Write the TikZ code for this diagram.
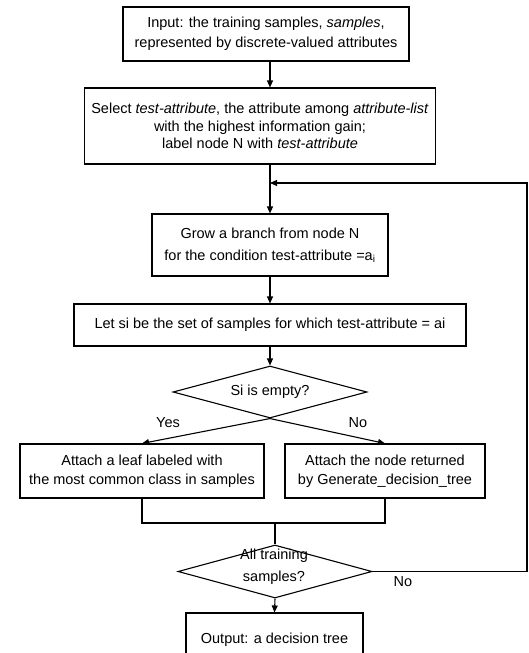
\documentclass[tikz,border=0pt]{standalone}
\usepackage{fontspec}
\setmainfont{Liberation Sans}
\usetikzlibrary{arrows.meta,shapes.geometric}
\tikzset{
  box/.style={draw, line width=1.1pt, inner sep=0pt, align=center, font=\fontsize{14.5}{#1}\selectfont},
  box/.default=18,
  txt/.style={inner sep=0pt, align=center, font=\fontsize{14.5}{#1}\selectfont},
  txt/.default=18,
  dia/.style={draw, shape=diamond, line width=1.1pt, inner sep=0pt},
  conn/.style={line width=1.1pt},
  arr/.style={line width=1.1pt, -{Triangle[length=7pt,width=6pt]}},
}
\begin{document}
\begin{tikzpicture}[x=1pt,y=-1pt]
\useasboundingbox[fill=white] (0,0) rectangle (528,653);
\node[box=20, minimum width=286pt, minimum height=54pt] (in) at (266,34)
  {Input: the training samples, \textit{samples},\\represented by discrete-valued attributes};
\node[box=17.5, minimum width=351pt, minimum height=76pt] (sel) at (260,126)
  {Select \textit{test-attribute}, the attribute among \textit{attribute-list}\\with the highest information gain;\\label node N with \textit{test-attribute}};
\node[box=22, minimum width=236pt, minimum height=62pt] (grow) at (270,245)
  {Grow a branch from node N\\for the condition test-attribute =a\textsubscript{i}};
\node[box, minimum width=392pt, minimum height=42pt] (let) at (270,325)
  {Let si be the set of samples for which test-attribute = ai};
\node[dia, minimum width=194pt, minimum height=52pt] (d1) at (270,392) {};
\node[txt] (d1t) at (270,392) {Si is empty?};
\node[box=19, minimum width=244pt, minimum height=54pt] (yes) at (142,471)
  {Attach a leaf labeled with\\the most common class in samples};
\node[box=19, minimum width=200pt, minimum height=54pt] (no) at (385,471)
  {Attach the node returned\\by Generate\_decision\_tree};
\node[dia, minimum width=194pt, minimum height=53pt] (d2) at (275,571.5) {};
\node[txt=22] (d2t) at (274,567) {All training\\samples?};
\node[box, minimum width=177pt, minimum height=54pt] (out) at (274.5,640)
  {Output: a decision tree};
\node[txt] (ylab) at (168,423) {Yes};
\node[txt] (nlab) at (358,423) {No};
\node[txt] (nlab2) at (403,582) {No};
\coordinate (j) at (270,183);
\coordinate (lr) at (527,183);
\coordinate (lb) at (527,571.5);
\coordinate (m) at (275,523);
\draw[arr] (in.south -| j) -- (sel.north -| j);
\draw[conn] (sel.south -| j) -- (j);
\draw[arr] (j) -- (grow.north);
\draw[arr] (grow.south) -- (let.north);
\draw[arr] (let.south) -- (d1.north);
\draw[arr] (d1.south) -- (yes.north);
\draw[arr] (d1.south) -- (no.north);
\draw[conn] (yes.south) |- (m) -| (no.south);
\draw[conn] (m) -- (d2.north);
\draw[arr] (d2.south) -- (out.north);
\draw[arr] (d2.east) -- (lb) -- (lr) -- (j);
\end{tikzpicture}
\end{document}
